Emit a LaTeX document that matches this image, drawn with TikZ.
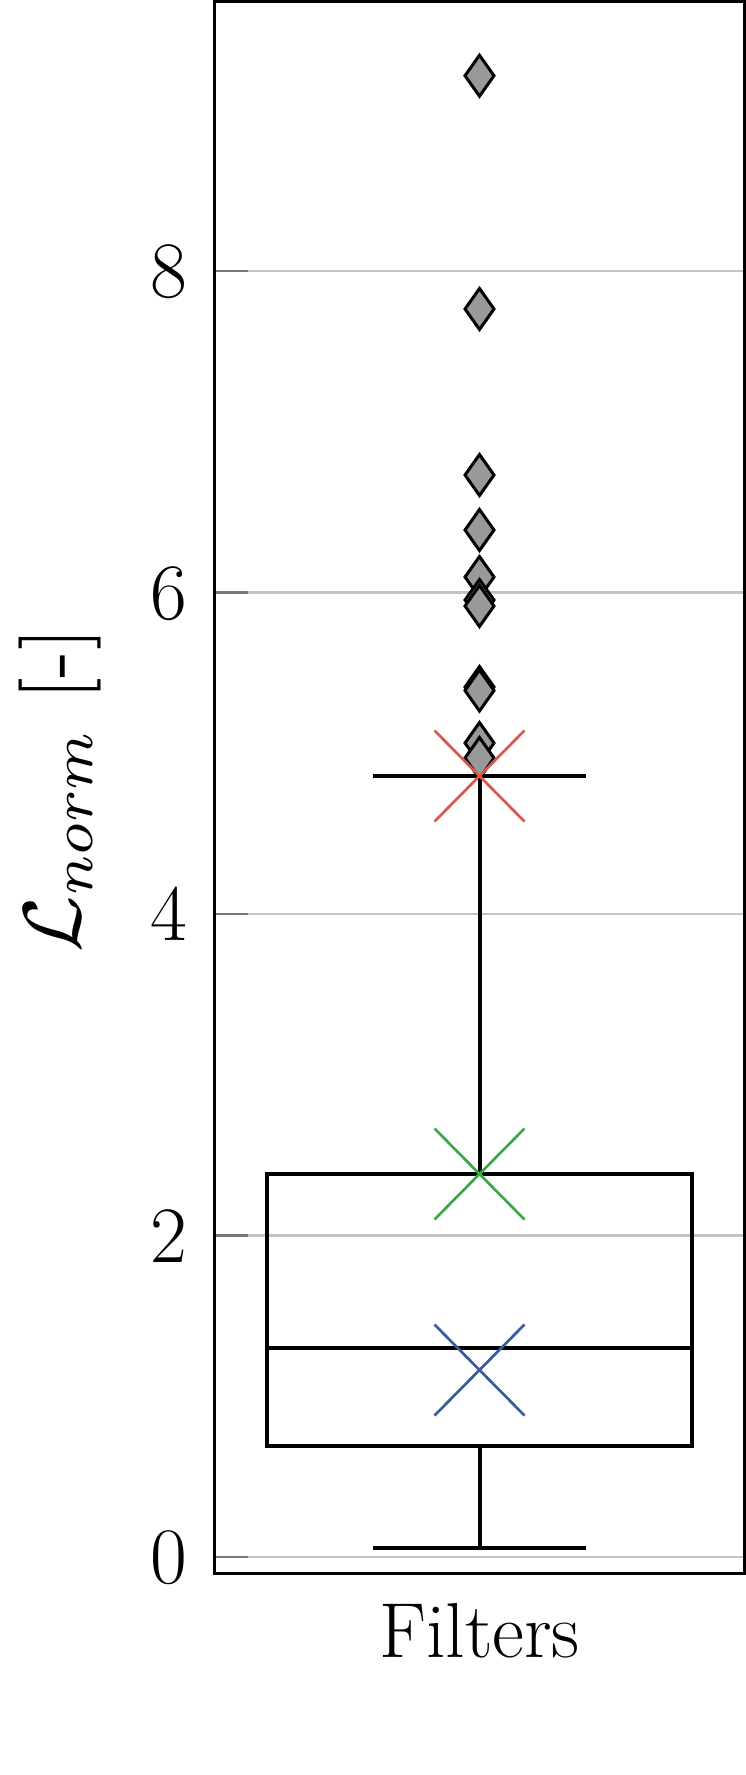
\documentclass[tikz,border=0pt]{standalone}
\usetikzlibrary{shapes.geometric,shapes.misc}
\definecolor{gridgray}{RGB}{195,195,195}
\definecolor{tickgray}{RGB}{120,120,120}
\definecolor{outfill}{RGB}{153,153,153}
\definecolor{xred}{RGB}{217,88,76}
\definecolor{xgreen}{RGB}{58,170,68}
\definecolor{xblue}{RGB}{58,92,158}
\tikzset{
  gridline/.style={draw=gridgray,line width=2.5pt},
  tickline/.style={draw=tickgray,line width=2.5pt},
  frameline/.style={draw=black,line width=3pt},
  boxline/.style={draw=black,line width=4pt},
  outlier/.style={shape=diamond,draw=black,fill=outfill,line width=3pt,
    minimum width=29pt,minimum height=41pt,inner sep=0pt,outer sep=0pt},
  xmark/.style={shape=cross out,line width=2.7pt,minimum width=90pt,
    minimum height=91pt,inner sep=0pt,outer sep=0pt},
  ticklabel/.style={anchor=base east,inner sep=0pt,font=\fontsize{80}{96}\selectfont},
  biglabel/.style={inner sep=0pt,font=\fontsize{78}{94}\selectfont},
}
\begin{document}
\begin{tikzpicture}[x=1pt,y=-1pt]
\useasboundingbox (0,0) rectangle (746,1775);
% grid and ticks
\foreach \v/\yy in {0/1557,2/1235.5,4/914,6/592.5,8/271}{
  \coordinate (gl\v) at (214.5,\yy);
  \coordinate (gr\v) at (744.5,\yy);
  \coordinate (gt\v) at (248,\yy);
  \draw[gridline] (gl\v) -- (gr\v);
  \draw[tickline] (gl\v) -- (gt\v);
  \node[ticklabel] (tl\v) at (187,\yy+26.5) {\v};
}
% outliers
\foreach \i/\yy in {1/75.7,2/309,3/475,4/530,5/577,6/600,7/606,8/687,9/690.5,10/743,11/758}{
  \node[outlier] (o\i) at (479.5,\yy) {};
}
% box
\node[boxline,minimum width=424.4pt,minimum height=272pt,inner sep=0pt,outer sep=0pt] (box) at (479.5,1310) {};
\coordinate (med) at (479.5,1347.7);
\draw[boxline] (box.west |- med) -- (box.east |- med);
% whiskers
\coordinate (capU) at (479.5,776);
\coordinate (capL) at (479.5,1548);
\draw[boxline] (box.north) -- (capU);
\draw[boxline] (box.south) -- (capL);
\draw[boxline] ([xshift=-106.5pt]capU) -- ([xshift=106.5pt]capU);
\draw[boxline] ([xshift=-106.5pt]capL) -- ([xshift=106.5pt]capL);
% cross markers
\node[xmark,draw=xred] (xr) at (capU) {};
\node[xmark,draw=xgreen] (xg) at (479.5,1174) {};
\node[xmark,draw=xblue] (xb) at (479.5,1370) {};
% frame
\draw[frameline] (214.5,1.5) rectangle (744.5,1573);
% labels
\node[inner sep=0pt,rotate=90] (ylab) at (60,790) {\scalebox{8.2}{$\mathcal{L}_{norm}$ [-]}};
\node[biglabel,anchor=base] (xlab) at (479.5,1657) {Filters};
\end{tikzpicture}
\end{document}
